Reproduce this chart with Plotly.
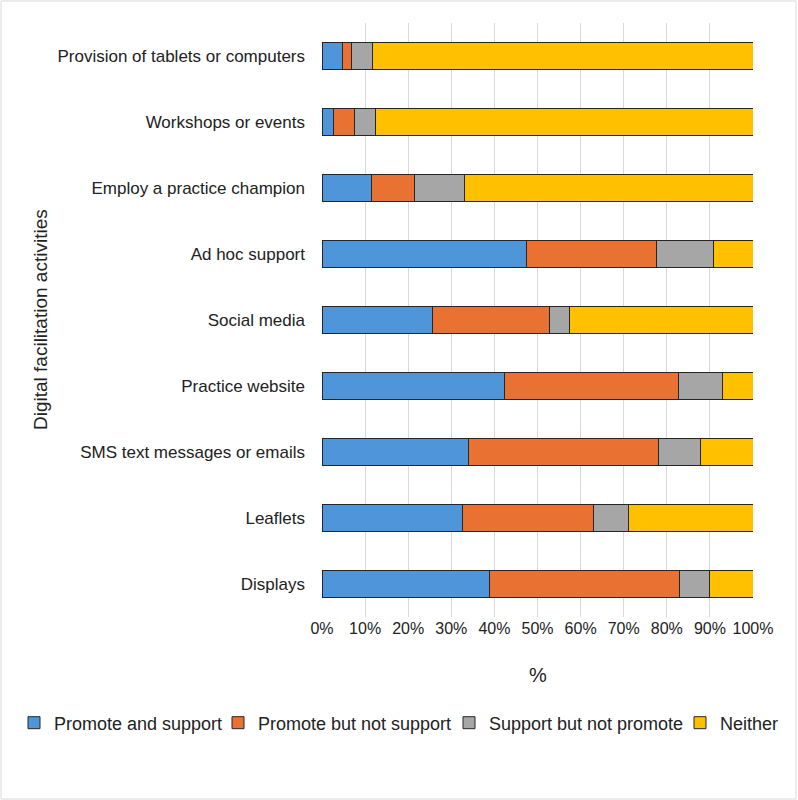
import plotly.graph_objects as go

# Data (percent of practices), top-to-bottom as shown
activities = [
    "Provision of tablets or computers",
    "Workshops or events",
    "Employ a practice champion",
    "Ad hoc support",
    "Social media",
    "Practice website",
    "SMS text messages or emails",
    "Leaflets",
    "Displays",
]
promote_and_support = [4.8, 2.7, 11.5, 47.5, 25.6, 42.4, 34.1, 32.7, 38.8]
promote_not_support = [2.0, 4.9, 10.0, 30.2, 27.1, 40.4, 43.9, 30.4, 44.2]
support_not_promote = [4.9, 4.9, 11.6, 13.2, 4.7, 10.1, 9.9, 7.9, 6.9]
neither = [88.3, 87.5, 66.9, 9.1, 42.6, 7.1, 12.1, 29.0, 10.1]

series_names = [
    "Promote and support",
    "Promote but not support",
    "Support but not promote",
    "Neither",
]
series_values = [promote_and_support, promote_not_support, support_not_promote, neither]
colors = ["#4E95D9", "#E97132", "#A6A6A6", "#FFC000"]

FONT = "Liberation Sans"
W, H = 798, 800
ML, MR, MT, MB = 322, 45, 23, 183

# one legend per entry so the row can span the full chart width
legend_ids = ["legend", "legend2", "legend3", "legend4"]
legend_left_px = [14, 218, 449, 680]

fig = go.Figure()
for name, vals, col, lg in zip(series_names, series_values, colors, legend_ids):
    fig.add_trace(go.Bar(
        y=activities,
        x=vals,
        name=name,
        orientation="h",
        legend=lg,
        marker=dict(color=col, line=dict(color="#262626", width=1)),
    ))

legend_style = dict(
    orientation="h",
    xref="container",
    yref="container",
    xanchor="left",
    y=1 - 723 / H,
    yanchor="middle",
    font=dict(size=18),
    itemwidth=30,
    bgcolor="rgba(0,0,0,0)",
)

fig.update_layout(
    width=W,
    height=H,
    barmode="stack",
    bargap=0.59,
    plot_bgcolor="white",
    paper_bgcolor="white",
    font=dict(family=FONT, size=16, color="#222222"),
    margin=dict(l=ML, r=MR, t=MT, b=MB, autoexpand=False),
    showlegend=True,
)
for lg, px_left in zip(legend_ids, legend_left_px):
    fig.update_layout({lg: dict(legend_style, x=px_left / W)})

fig.update_xaxes(
    range=[0, 100],
    dtick=10,
    ticksuffix="%",
    showgrid=True,
    gridcolor="#D9D9D9",
    gridwidth=1,
    zeroline=False,
    showline=False,
    ticks="",
    tickfont=dict(size=16),
)
fig.update_yaxes(
    autorange="reversed",
    showgrid=False,
    showline=False,
    ticks="",
    ticklabelstandoff=16,
    tickfont=dict(size=17),
)

pw = W - ML - MR
ph = H - MT - MB

# axis titles
fig.add_annotation(
    text="%", xref="paper", yref="paper",
    x=0.5, y=-(675 - (H - MB)) / ph, xanchor="center", yanchor="middle",
    showarrow=False, font=dict(size=20),
)
fig.add_annotation(
    text="Digital facilitation activities", xref="paper", yref="paper",
    x=-(ML - 40) / pw, y=0.5, xanchor="center", yanchor="middle",
    textangle=-90, showarrow=False, font=dict(size=19),
)

# outer chart border
fig.add_shape(
    type="rect", xref="paper", yref="paper",
    x0=-(ML - 1) / pw, x1=1 + (MR - 2) / pw,
    y0=-(MB - 1) / ph, y1=1 + (MT - 1) / ph,
    line=dict(color="#D9D9D9", width=1),
)

fig.write_html(
    "out.html",
    config={"displayModeBar": False},
    post_script="document.body.style.margin='0';",
)
